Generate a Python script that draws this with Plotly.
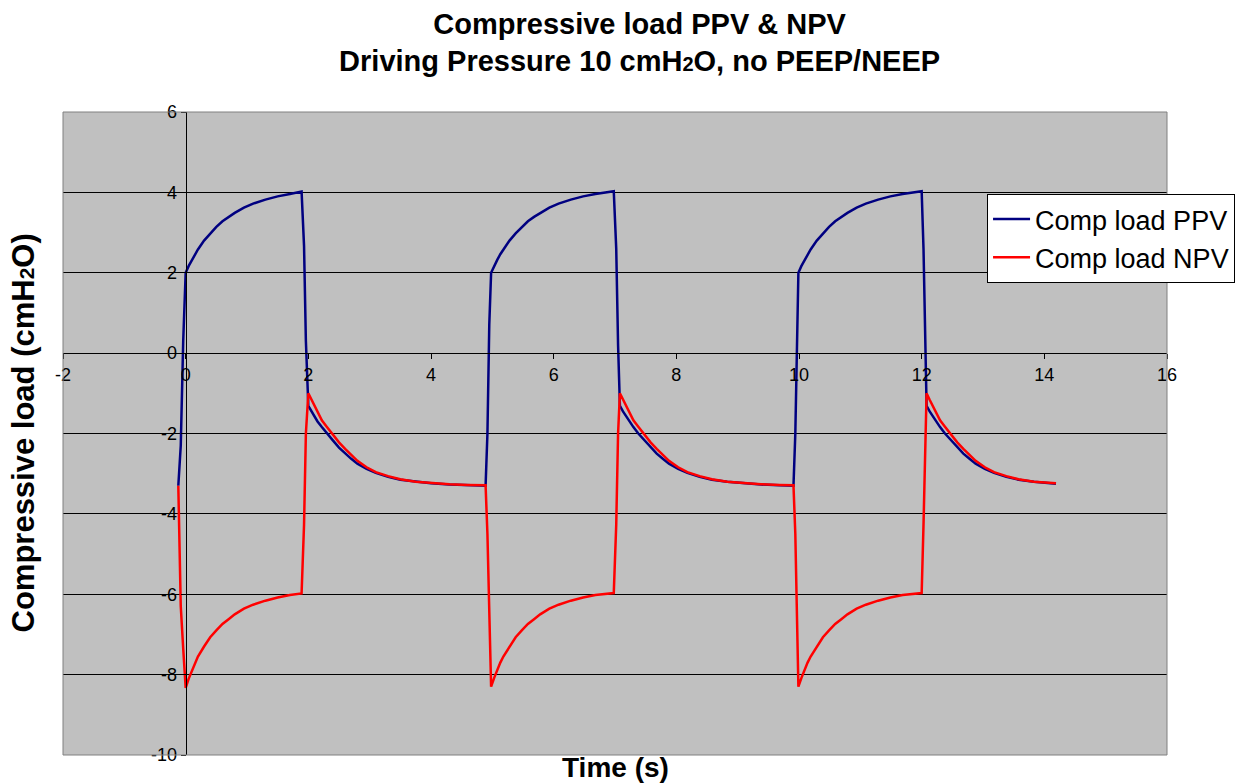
import plotly.graph_objects as go

# ---- data (time in s, compressive load in cmH2O) ----
# cycle 1
t_c1 = [-0.12, -0.08, -0.04,
        0.0, 0.05, 0.1, 0.15, 0.2, 0.3, 0.4, 0.5, 0.6, 0.7, 0.8, 0.95, 1.1, 1.3, 1.5, 1.7, 1.89,
        1.93, 1.96, 2.0,
        2.05, 2.1, 2.15, 2.22, 2.3, 2.4, 2.5, 2.6, 2.7, 2.8, 2.95, 3.1, 3.3, 3.5, 3.75, 4.0, 4.3, 4.6, 4.89]
ppv_c1 = [-3.3, -2.3, 0.3,
          2.0, 2.17, 2.32, 2.46, 2.58, 2.8, 2.98, 3.14, 3.28, 3.39, 3.49, 3.62, 3.72, 3.82, 3.9, 3.96, 4.02,
          2.67, 0.3, -1.31,
          -1.45, -1.57, -1.7, -1.84, -2.0, -2.17, -2.35, -2.5, -2.63, -2.75, -2.88, -2.98, -3.08, -3.15, -3.2, -3.24, -3.27, -3.29, -3.3]
npv_c1 = [-3.3, -6.3, -7.35,
          -8.33, -8.1, -7.9, -7.7, -7.55, -7.3, -7.07, -6.9, -6.74, -6.62, -6.5, -6.36, -6.26, -6.16, -6.08, -6.02, -5.98,
          -4.27, -2.0, -1.0,
          -1.16, -1.31, -1.45, -1.67, -1.83, -2.03, -2.22, -2.38, -2.53, -2.68, -2.84, -2.96, -3.06, -3.14, -3.2, -3.23, -3.26, -3.28, -3.29]

# cycle 2
t_c2 = [4.92, 4.95,
        4.98, 5.03, 5.08, 5.13, 5.18, 5.28, 5.38, 5.48, 5.58, 5.68, 5.78, 5.93, 6.08, 6.28, 6.48, 6.68, 6.98,
        7.02, 7.05, 7.08,
        7.13, 7.18, 7.23, 7.3, 7.38, 7.48, 7.58, 7.68, 7.78, 7.88, 8.03, 8.18, 8.38, 8.58, 8.83, 9.08, 9.38, 9.68, 9.91]
ppv_c2 = [-2.0, 0.7,
          2.0, 2.17, 2.32, 2.46, 2.58, 2.8, 2.98, 3.14, 3.28, 3.39, 3.49, 3.62, 3.72, 3.82, 3.9, 3.96, 4.03,
          2.6, 0.2, -1.31,
          -1.45, -1.57, -1.7, -1.84, -2.0, -2.17, -2.35, -2.5, -2.63, -2.75, -2.88, -2.98, -3.08, -3.15, -3.2, -3.24, -3.27, -3.29, -3.3]
npv_c2 = [-4.5, -6.6,
          -8.3, -8.08, -7.88, -7.7, -7.55, -7.3, -7.07, -6.9, -6.74, -6.62, -6.5, -6.36, -6.26, -6.16, -6.08, -6.02, -5.97,
          -4.27, -2.0, -1.0,
          -1.16, -1.31, -1.45, -1.67, -1.83, -2.03, -2.22, -2.38, -2.53, -2.68, -2.84, -2.96, -3.06, -3.14, -3.2, -3.23, -3.26, -3.28, -3.29]

# cycle 3
t_c3 = [9.94, 9.97,
        9.99, 10.04, 10.09, 10.14, 10.19, 10.29, 10.39, 10.49, 10.59, 10.69, 10.79, 10.94, 11.09, 11.29, 11.49, 11.69, 12.0,
        12.03, 12.06, 12.08,
        12.13, 12.18, 12.23, 12.3, 12.38, 12.48, 12.58, 12.68, 12.78, 12.88, 13.03, 13.18, 13.38, 13.58, 13.83, 14.08, 14.19]
ppv_c3 = [-2.0, 0.7,
          2.0, 2.17, 2.32, 2.46, 2.58, 2.8, 2.98, 3.14, 3.28, 3.39, 3.49, 3.62, 3.72, 3.82, 3.9, 3.96, 4.03,
          2.6, 0.2, -1.31,
          -1.45, -1.57, -1.7, -1.84, -2.0, -2.17, -2.35, -2.5, -2.63, -2.75, -2.88, -2.98, -3.08, -3.15, -3.2, -3.24, -3.25]
npv_c3 = [-4.5, -6.6,
          -8.3, -8.08, -7.88, -7.7, -7.55, -7.3, -7.07, -6.9, -6.74, -6.62, -6.5, -6.36, -6.26, -6.16, -6.08, -6.02, -5.97,
          -4.27, -2.0, -1.0,
          -1.16, -1.31, -1.45, -1.67, -1.83, -2.03, -2.22, -2.38, -2.53, -2.68, -2.84, -2.96, -3.06, -3.14, -3.2, -3.23, -3.24]

time = t_c1 + t_c2 + t_c3
ppv = ppv_c1 + ppv_c2 + ppv_c3
npv = npv_c1 + npv_c2 + npv_c3

series_names = ["Comp load PPV", "Comp load NPV"]
x_range = [-2, 16]
y_range = [-10, 6]
x_tickvals = [-2, 0, 2, 4, 6, 8, 10, 12, 14, 16]
x_ticklabels = ["-2", "0", "2", "4", "6", "8", "10", "12", "14", "16"]
y_tickvals = [-10, -8, -6, -4, -2, 0, 2, 4, 6]
y_ticklabels = ["-10", "-8", "-6", "-4", "-2", "0", "2", "4", "6"]

FONT = "Liberation Sans, Arial, sans-serif"

fig = go.Figure()
fig.add_trace(go.Scatter(x=time, y=ppv, mode="lines", name=series_names[0],
                         line=dict(color="#000080", width=2.5)))
fig.add_trace(go.Scatter(x=time, y=npv, mode="lines", name=series_names[1],
                         line=dict(color="#FF0000", width=2.5)))

x_cross = (0 - x_range[0]) / (x_range[1] - x_range[0])
y_cross = (0 - y_range[0]) / (y_range[1] - y_range[0])

fig.update_layout(
    width=1242, height=783,
    margin=dict(l=63, r=75, t=112, b=28, autoexpand=False),
    paper_bgcolor="white",
    plot_bgcolor="#C0C0C0",
    font=dict(family=FONT, color="black"),
    title=dict(
        text="Compressive load PPV &amp; NPV<br>Driving Pressure 10 cmH<span style='font-size:20px'>2</span>O, no PEEP/NEEP",
        x=0.515, xanchor="center", xref="container",
        y=0.957, yanchor="top", yref="container",
        font=dict(family=FONT, size=29, color="black", weight="bold"),
    ),
    xaxis=dict(
        range=x_range, tickmode="array", tickvals=x_tickvals, ticktext=x_ticklabels,
        showgrid=False, zeroline=False,
        showline=True, linecolor="black", linewidth=1,
        ticks="outside", ticklen=5, tickcolor="black",
        anchor="free", position=y_cross, side="bottom",
        tickfont=dict(family=FONT, size=18, color="black"),
    ),
    yaxis=dict(
        range=y_range, tickmode="array", tickvals=y_tickvals, ticktext=y_ticklabels,
        showgrid=True, gridcolor="black", gridwidth=1,
        zeroline=False,
        showline=True, linecolor="black", linewidth=1,
        ticks="outside", ticklen=5, tickcolor="black",
        anchor="free", position=x_cross, side="left",
        tickfont=dict(family=FONT, size=18, color="black"),
    ),
    legend=dict(
        x=0.837, y=0.8725, xanchor="left", yanchor="top",
        bgcolor="white", bordercolor="black", borderwidth=1,
        itemwidth=37,
        font=dict(family=FONT, size=27, color="black"),
    ),
    showlegend=True,
    shapes=[dict(type="rect", xref="paper", yref="paper", x0=0, x1=1, y0=0, y1=1,
                 line=dict(color="#808080", width=1), layer="above")],
    annotations=[
        dict(text="Compressive load (cmH<span style='font-size:21px'>2</span>O)",
             xref="paper", yref="paper", x=0, y=0.5, xshift=-40,
             xanchor="center", yanchor="middle", textangle=-90, showarrow=False,
             font=dict(family=FONT, size=31, color="black", weight="bold")),
        dict(text="Time (s)", xref="paper", yref="paper", x=0.5, y=0, yshift=-12,
             xanchor="center", yanchor="middle", showarrow=False,
             font=dict(family=FONT, size=28, color="black", weight="bold")),
    ],
)

fig.write_html("out.html", config={"displayModeBar": False},
               post_script="document.body.style.margin='0';")
